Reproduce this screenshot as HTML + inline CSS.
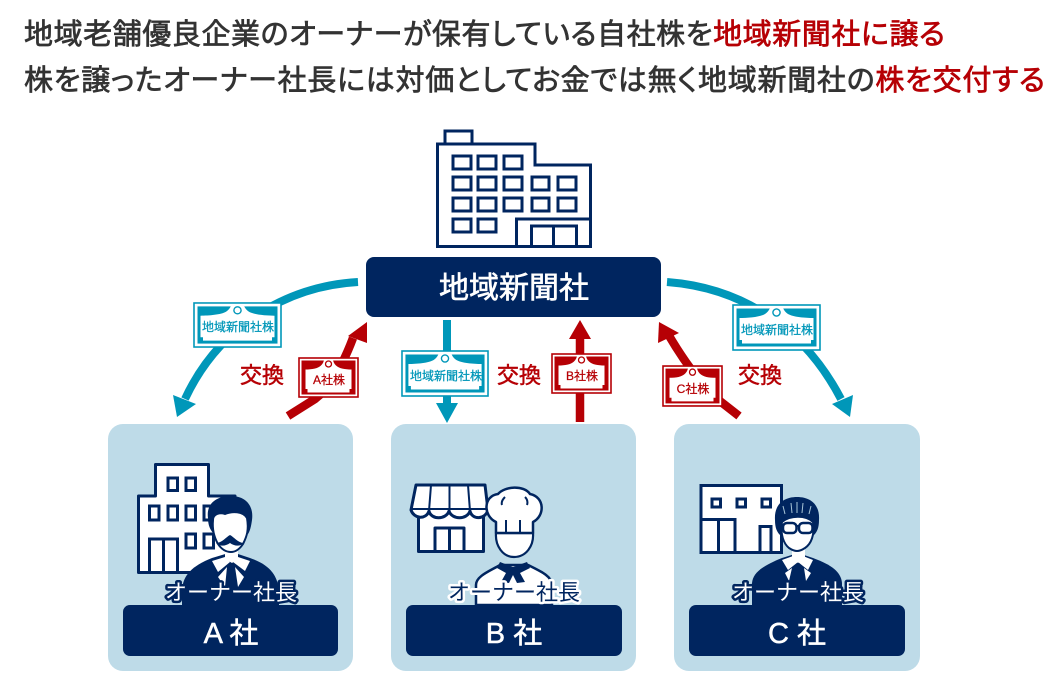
<!DOCTYPE html>
<html lang="ja">
<head>
<meta charset="utf-8">
<style>
html,body{margin:0;padding:0;background:#fff}
svg{display:block}
text{font-family:"Liberation Sans","Noto Sans CJK JP",sans-serif}
</style>
</head>
<body>
<svg width="1054" height="693" viewBox="0 0 1054 693" xmlns="http://www.w3.org/2000/svg">
<defs>
<symbol id="cert" viewBox="0 0 89 47" preserveAspectRatio="none">
  <rect x="1" y="1" width="87" height="45" fill="#fff" stroke="currentColor" stroke-width="1.6"/>
  <rect x="4.500" y="4.500" width="80" height="38" fill="currentColor"/>
  <path d="M7.500 14C16 14 28 13 33 10C36 8 37 6 38 4H51C52 6 53 8 56 10C61 13 73 14 81.500 14V36H79V39.500H10V36H7.500Z" fill="#fff"/>
  <circle cx="44.500" cy="8.500" r="3.600" fill="#fff" stroke="currentColor" stroke-width="1.400"/>
</symbol>
<symbol id="certr" viewBox="0 0 61 41" preserveAspectRatio="none">
  <rect x="1" y="1" width="59" height="39" fill="#fff" stroke="currentColor" stroke-width="1.600"/>
  <rect x="3.500" y="3.500" width="54" height="34" fill="currentColor"/>
  <path d="M7.500 12.500C14 12.500 20 11.500 23 8.500C25 6.500 25.500 5 26 3H35C35.500 5 36 6.500 38 8.500C41 11.500 47 12.500 53.500 12.500V32H51.500V35.500H9.500V32H7.500Z" fill="#fff"/>
  <circle cx="30.500" cy="7" r="3" fill="#fff" stroke="currentColor" stroke-width="1.300"/>
</symbol>
</defs>

<!-- title -->
<text x="24" y="44" font-size="29" fill="#333" stroke="#333" stroke-width=".7" textLength="921" lengthAdjust="spacing" style="font-feature-settings:'palt'">地域老舗優良企業のオーナーが保有している自社株を<tspan fill="#b60005" stroke="#b60005">地域新聞社に譲る</tspan></text>
<text x="24" y="90" font-size="29" fill="#333" stroke="#333" stroke-width=".7" textLength="1021" lengthAdjust="spacing" style="font-feature-settings:'palt'">株を譲ったオーナー社長には対価としてお金では無く地域新聞社の<tspan fill="#b60005" stroke="#b60005">株を交付する</tspan></text>

<!-- head office building -->
<g fill="#fff" stroke="#00255f" stroke-width="3">
  <rect x="445" y="131" width="27" height="13"/>
  <path d="M437.500 144H535V165H590.500V246.500H437.500Z"/>
  <g fill="none" stroke-width="3">
    <rect x="453" y="156" width="18" height="13"/><rect x="478" y="156" width="18" height="13"/><rect x="504" y="156" width="18" height="13"/>
    <rect x="453" y="177" width="18" height="13"/><rect x="478" y="177" width="18" height="13"/><rect x="504" y="177" width="18" height="13"/><rect x="532" y="177" width="17" height="13"/><rect x="558" y="177" width="18" height="13"/>
    <rect x="453" y="198" width="18" height="13"/><rect x="478" y="198" width="18" height="13"/><rect x="504" y="198" width="18" height="13"/><rect x="532" y="198" width="17" height="13"/><rect x="558" y="198" width="18" height="13"/>
    <rect x="453" y="219" width="18" height="13"/><rect x="478" y="219" width="18" height="13"/>
    <path d="M516.500 246V219H591M531.500 246V226H576.500V246M553.500 226V246"/>
  </g>
</g>

<!-- main box -->
<rect x="366" y="257" width="295" height="60" rx="8" fill="#00255f"/>
<text x="514" y="298" font-size="30" fill="#fff" stroke="#fff" stroke-width=".6" text-anchor="middle">地域新聞社</text>

<!-- blue arrows -->
<g fill="none" stroke="#0097b9" stroke-width="8">
  <path d="M358 282C285 286 218 328 185 399"/>
  <path d="M667 282C745 288 805 330 841 399"/>
  <path d="M447 320V404"/>
</g>
<g fill="#0097b9">
  <path d="M177 417L173 395L196 404Z"/>
  <path d="M850 417L832 404L853 395Z"/>
  <path d="M447 423L436 403H458Z"/>
</g>

<!-- red arrows -->
<g fill="none" stroke="#b60005" stroke-width="8.500">
  <path d="M288 416L315 399Q336 383 353 338"/>
  <path d="M580 422V336"/>
  <path d="M739 416L716 398Q692 375 668 334"/>
</g>
<g fill="#b60005">
  <path d="M367 322L367 343L348 336Z"/>
  <path d="M580 320L591 339H569Z"/>
  <path d="M659 322L679 333L658 343Z"/>
</g>

<!-- certificates -->
<use href="#cert" x="193" y="302" width="89" height="46" color="#0097b9"/>
<use href="#cert" x="401" y="350" width="88" height="47" color="#0097b9"/>
<use href="#cert" x="732" y="304" width="89" height="47" color="#0097b9"/>
<use href="#certr" x="298" y="357" width="61" height="41" color="#b60005"/>
<use href="#certr" x="551" y="353" width="61" height="41" color="#b60005"/>
<use href="#certr" x="662" y="365" width="61" height="42" color="#b60005"/>
<g font-size="12" fill="#0097b9" stroke="#0097b9" stroke-width=".25" text-anchor="middle">
  <text x="238" y="331">地域新聞社株</text>
  <text x="446" y="380">地域新聞社株</text>
  <text x="777" y="334">地域新聞社株</text>
</g>
<g font-size="12" fill="#b60005" stroke="#b60005" stroke-width=".25" text-anchor="middle">
  <text x="329" y="384">A社株</text>
  <text x="582" y="380">B社株</text>
  <text x="693" y="393">C社株</text>
</g>

<!-- exchange labels -->
<g font-size="22" fill="#b60005" stroke="#b60005" stroke-width=".5" text-anchor="middle">
  <text x="262" y="383">交換</text>
  <text x="519" y="383">交換</text>
  <text x="760" y="383">交換</text>
</g>

<!-- cards -->
<g fill="#bedbe8">
  <rect x="108" y="424" width="245" height="247" rx="15"/>
  <rect x="391" y="424" width="245" height="247" rx="15"/>
  <rect x="674" y="424" width="246" height="247" rx="15"/>
</g>

<!-- A icon -->
<g stroke="#00255f" stroke-width="3" fill="#fff">
  <path d="M155.500 496V464.500H208.500V496H235V572.500H138.500V496Z" stroke-linejoin="round"/>
  <g fill="none">
    <rect x="168" y="478" width="9.500" height="12.500"/><rect x="186" y="478" width="9.500" height="12.500"/>
    <rect x="149.500" y="506" width="9.500" height="14"/><rect x="168" y="506" width="9.500" height="14"/><rect x="186" y="506" width="9.500" height="14"/><rect x="204" y="506" width="9.500" height="14"/>
    <rect x="186" y="534" width="9.500" height="14"/><rect x="204" y="534" width="9.500" height="14"/>
    <path d="M149.500 572V539H177.500V572M163.500 539V572"/>
  </g>
</g>
<g>
  <path d="M182 605V590C183 575 192 566 212 558L232 552L250 558C270 565 277 575 279 590V605Z" fill="#00255f"/>
  <path d="M208 518C206 504 216 496 231 496C245 496 254 505 252 520C251 527 250 531 248 534L214 534C210 530 208 525 208 518Z" fill="#00255f"/>
  <path d="M225 545H238V559L232 563L225 559Z" fill="#fff"/>
  <path d="M213 520C213 514 220 512 225 514C232 511 243 511 247 518C249 530 247 536 243 544C239 550 235 552 231 552C226 552 222 550 218 544C214 537 212 530 213 520Z" fill="#fff" stroke="#00255f" stroke-width="2"/>
  <path d="M216 543C222 543 226 537 230 535C234 537 238 543 244 543C240 547 234 546 230 543C226 546 220 547 216 543Z" fill="#00255f"/>
  <path d="M212 561L225 557L230 562L218 572ZM250 561L238 557L233 562L245 571Z" fill="#fff"/>
  <path d="M227 567L218 577L225 587ZM235 567L244 577L238 587Z" fill="#fff"/>
</g>

<!-- B icon -->
<g stroke="#00255f" stroke-width="3" fill="#fff" stroke-linejoin="round">
  <path d="M418.500 510H483.500V551.500H418.500Z"/>
  <path d="M416 485H485L488 510C485 520 472 520 470 511C467 520 452 520 449 511C446 520 431 520 429 511C426 520 414 519 411 510Z"/>
  <path d="M411 509H488M431 485L429 511M449.500 485V511M468 485L470 511" fill="none" stroke-width="2"/>
  <path d="M435 552V528H464V552M449.500 528V552" fill="none"/>
</g>
<g stroke="#00255f" fill="#fff" stroke-linejoin="round">
  <path d="M476 605V585C476 576 490 571 500 565H528C540 571 552 576 552 585V605Z" stroke-width="2.500"/>
  <path d="M496 533C495 546 503 557 514 557C526 557 534 546 533 533Z" stroke-width="2.200"/>
  <path d="M496 533V522C483 516 483 496 498 494C505 486 524 485 530 494C545 497 545 516 533 522V533Z" stroke-width="2.500"/>
  <path d="M506 533V520M520 533V520M502 505C501 502 503 499 505 497M527 505C528 502 527 499 525 497" fill="none" stroke-width="2"/>
  <path d="M500 562L513 567L527 562L530 568L520 573L525 582L517 583L513 575L509 583L501 582L506 573L497 568Z" fill="#00255f" stroke="none"/>
</g>

<!-- C icon -->
<g stroke="#00255f" stroke-width="3" fill="#fff">
  <rect x="701" y="485.500" width="80.500" height="67"/>
  <g fill="none">
    <rect x="712" y="499" width="8.500" height="8"/><rect x="737" y="499" width="8.500" height="8"/><rect x="762" y="499" width="8.500" height="8"/>
    <path d="M701 519.500H735V552M718.500 520V552M760 552V526.500H771V552"/>
  </g>
</g>
<g>
  <path d="M752 605V583C753 573 762 566 782 558L798 553L813 558C832 565 841 572 842 583V605Z" fill="#00255f"/>
  <path d="M775 520C774 505 783 497 797 497C811 497 820 505 819 520C819 528 817 532 814 535H780C777 532 775 528 775 520Z" fill="#00255f"/>
  <path d="M792 545H805V558L798 563L792 558Z" fill="#fff"/>
  <path d="M782 522C790 515 806 515 813 522C815 535 811 544 805 548C802 550 800 551 797 551C795 551 792 550 789 548C784 544 780 535 782 522Z" fill="#fff" stroke="#00255f" stroke-width="2"/>
  <path d="M783 506L785 514M791 503L792 513M797 502V513M803 503L802 513M811 506L809 514" stroke="#a9c6d8" stroke-width="1"/>
  <rect x="783" y="523" width="13.500" height="10" rx="4" fill="#fff" stroke="#00255f" stroke-width="2.500"/>
  <rect x="799" y="523" width="13.500" height="10" rx="4" fill="#fff" stroke="#00255f" stroke-width="2.500"/>
  <path d="M796 526H799M776 525H783M812 525H818" stroke="#00255f" stroke-width="2"/>
  <path d="M782 560L793 556L798 562L788 570ZM813 560L803 556L798 562L808 570Z" fill="#fff"/>
  <path d="M792 568L785 573L789 581ZM804 568L811 573L806 581Z" fill="#fff"/>
</g>

<!-- dark bars -->
<g fill="#00255f">
  <rect x="123" y="605" width="215" height="51" rx="7"/>
  <rect x="406" y="605" width="216" height="51" rx="7"/>
  <rect x="689" y="605" width="216" height="51" rx="7"/>
</g>
<g font-size="29" fill="#fff" stroke="#fff" stroke-width=".5" text-anchor="middle">
  <text x="231" y="643">A 社</text>
  <text x="514" y="643">B 社</text>
  <text x="797" y="643">C 社</text>
</g>

<!-- owner labels -->
<g font-size="22" text-anchor="middle" stroke-linejoin="round">
  <text x="231" y="600" fill="#fff" stroke="#00255f" stroke-width="5" paint-order="stroke">オーナー社長<tspan/></text>
  <text x="514" y="600" fill="#00255f" stroke="#fff" stroke-width="5" paint-order="stroke">オーナー社長</text>
  <text x="798" y="600" fill="#fff" stroke="#00255f" stroke-width="5" paint-order="stroke">オーナー社長</text>
</g>
</svg>
</body>
</html>
